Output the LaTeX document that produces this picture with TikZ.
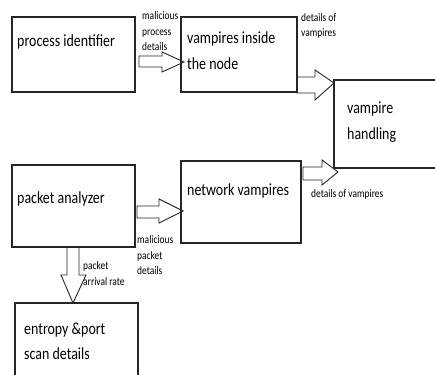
\documentclass[tikz,border=0pt]{standalone}
\usepackage{fontspec}
\newfontfamily\boxfont[FakeStretch=0.82]{Carlito}
\newfontfamily\smallfont[FakeStretch=0.82]{Carlito}
\begin{document}
\begin{tikzpicture}[x=1pt,y=-1pt,
  box/.style={draw=black!85,line width=1.2pt,inner sep=0pt},
  boxtxt/.style={inner sep=0pt,anchor=west,align=left,font=\boxfont\fontsize{17}{25.5}\selectfont},
  lbl/.style={inner sep=0pt,anchor=west,align=left,font=\smallfont\fontsize{11.5}{15.5}\selectfont},
  barrow/.style={draw=black!85,line width=0.9pt,line join=miter}]
\useasboundingbox (0,0) rectangle (435,374);
\clip (0,0) rectangle (435,374);
% boxes
\node[box,minimum width=123pt,minimum height=75pt] (pi) at (73.5,54.5) {};
\node[box,minimum width=116pt,minimum height=75pt] (vi) at (239,54.5) {};
\node[box,minimum width=110pt,minimum height=88pt] (vh) at (389,124) {};
\node[box,minimum width=123pt,minimum height=82pt] (pa) at (73.5,206) {};
\node[box,minimum width=120pt,minimum height=82pt] (nv) at (241,202) {};
\node[box,minimum width=123pt,minimum height=90pt] (ep) at (76.5,348) {};
% box texts
\node[boxtxt] (pit) at (17,42) {process identifier};
\node[boxtxt] (vit) at (187,50.5) {vampires inside\\the node};
\node[boxtxt] (vht) at (347,122) {vampire\\handling};
\node[boxtxt] (pat) at (17,199) {packet analyzer};
\node[boxtxt] (nvt) at (187,191) {network vampires};
\node[boxtxt] (ept) at (24,341.5) {entropy \&port\\scan details};
% block arrows
\draw[barrow] (139,56)--(162,56)--(162,52)--(184,62)--(162,72)--(162,67)--(139,67)--cycle;
\draw[barrow] (297,77)--(315,77)--(315,70)--(334,83)--(315,100)--(315,93)--(297,93)--cycle;
\draw[barrow] (303,167)--(322,167)--(322,160)--(338,172)--(322,185)--(322,180)--(303,180)--cycle;
\draw[barrow] (137,206)--(159,206)--(159,199)--(183,211)--(159,223)--(159,218)--(137,218)--cycle;
\draw[barrow] (67,247)--(67,275)--(61,275)--(73,303)--(86,275)--(79,275)--(79,247)--cycle;
% labels
\node[lbl] (l1) at (142,31.5) {malicious\\process\\details};
\node[lbl] (l2) at (301,26) {details of\\vampires};
\node[lbl] (l3) at (311,194) {details of vampires};
\node[lbl] (l4) at (137,255.5) {malicious\\packet\\details};
\node[lbl] (l5) at (83,273.5) {packet\\arrival rate};
\end{tikzpicture}
\end{document}
